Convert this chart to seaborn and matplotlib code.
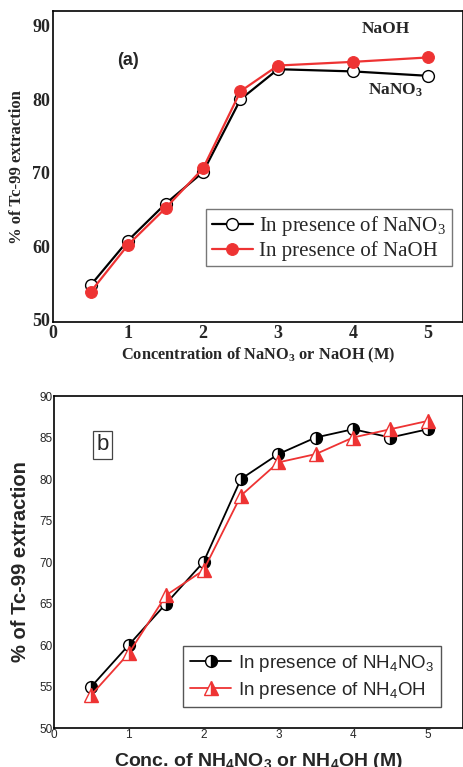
import numpy as np
import pandas as pd
import matplotlib
matplotlib.use('Agg')
import matplotlib.pyplot as plt
import seaborn as sns

# panel (a) data
conc_a = [0.5, 1, 1.5, 2, 2.5, 3, 4, 5]
nano3_a = [54.7, 60.8, 65.8, 70.1, 80.0, 84.1, 83.8, 83.2]
naoh_a = [53.8, 60.2, 65.2, 70.6, 81.1, 84.6, 85.1, 85.7]

# panel (b) data
conc_b = [0.5, 1, 1.5, 2, 2.5, 3, 3.5, 4, 4.5, 5]
nh4no3_b = [55, 60, 65, 70, 80, 83, 85, 86, 85, 86]
nh4oh_b = [54, 59, 66, 69, 78, 82, 83, 85, 86, 87]

yticks_a = [50, 60, 70, 80, 90]
yticks_b = [50, 55, 60, 65, 70, 75, 80, 85, 90]
xticks = [0, 1, 2, 3, 4, 5]

sns.set_style('ticks')
plt.rcParams['mathtext.default'] = 'regular'

red = '#ee3333'
serif = 'Liberation Serif'
sans = 'Liberation Sans'

fig = plt.figure(figsize=(4.63, 7.67), dpi=100)

# ---------- panel (a)
ax1 = fig.add_axes([0.1145, 0.580, 0.8855, 0.4055])
sns.lineplot(x=conc_a, y=nano3_a, ax=ax1, color='black', lw=1.6, marker='o',
             markersize=8.5, markerfacecolor='white', markeredgecolor='black',
             markeredgewidth=1.0, label='In presence of NaNO$_3$')
sns.lineplot(x=conc_a, y=naoh_a, ax=ax1, color=red, lw=1.6, marker='o',
             markersize=8.5, markerfacecolor=red, markeredgecolor=red,
             label='In presence of NaOH')
ax1.set_xlim(0, 5.467)
ax1.set_ylim(49.7, 92)
ax1.set_xticks(xticks)
ax1.set_yticks(yticks_a)
ax1.tick_params(length=0, pad=2)
for t in ax1.get_xticklabels() + ax1.get_yticklabels():
    t.set_fontfamily(serif)
    t.set_fontweight('bold')
    t.set_fontsize(13)
ax1.set_xlabel('Concentration of NaNO$_3$ or NaOH (M)', family=serif,
               fontweight='bold', fontsize=11.8, labelpad=3)
ax1.set_ylabel('% of Tc-99 extraction', family=serif, fontweight='bold',
               fontsize=12, labelpad=5)
ax1.text(1.0, 85.3, '(a)', family=sans, fontweight='bold', fontsize=13,
         ha='center', va='center')
ax1.text(4.44, 89.6, 'NaOH', family=serif, fontweight='bold', fontsize=12.5,
         ha='center', va='center')
ax1.text(4.57, 81.2, 'NaNO$_3$', family=serif, fontweight='bold', fontsize=12.5,
         ha='center', va='center')
leg1 = ax1.legend(loc='lower right', bbox_to_anchor=(0.972, 0.18),
                  prop={'family': serif, 'size': 15}, frameon=True,
                  fancybox=False, framealpha=1, edgecolor='#777777',
                  handlelength=2.0, handletextpad=0.3, borderpad=0.25,
                  labelspacing=0.15, borderaxespad=0)
leg1.get_frame().set_linewidth(1.0)
for sp in ax1.spines.values():
    sp.set_linewidth(1.2)
    sp.set_color('black')

# ---------- panel (b)
ax2 = fig.add_axes([0.1166, 0.0508, 0.8834, 0.4329])
sns.lineplot(x=conc_b, y=nh4no3_b, ax=ax2, color='black', lw=1.3, marker='o',
             markersize=8.5, fillstyle='right', markerfacecolor='black',
             markerfacecoloralt='white', markeredgecolor='black',
             markeredgewidth=1.0, label='In presence of NH$_4$NO$_3$')
sns.lineplot(x=conc_b, y=nh4oh_b, ax=ax2, color=red, lw=1.3, marker='^',
             markersize=9.5, fillstyle='right', markerfacecolor=red,
             markerfacecoloralt='white', markeredgecolor=red,
             markeredgewidth=1.0, label='In presence of NH$_4$OH')
ax2.set_xlim(0, 5.47)
ax2.set_ylim(50, 90)
ax2.set_xticks(xticks)
ax2.set_yticks(yticks_b)
ax2.tick_params(length=0, pad=1)
for t in ax2.get_xticklabels() + ax2.get_yticklabels():
    t.set_fontfamily(sans)
    t.set_fontsize(8.5)
ax2.set_xlabel('Conc. of NH$_4$NO$_3$ or NH$_4$OH (M)', family=sans,
               fontweight='bold', fontsize=14, labelpad=7)
ax2.set_ylabel('% of Tc-99 extraction', family=sans, fontweight='bold',
               fontsize=14.5, labelpad=7)
ax2.text(0.655, 84.1, 'b', family=sans, fontsize=16, ha='center', va='center',
         bbox=dict(boxstyle='square,pad=0.15', fc='white', ec='#444444', lw=0.9))
leg2 = ax2.legend(loc='lower right', bbox_to_anchor=(0.945, 0.063),
                  prop={'family': sans, 'size': 13.5}, frameon=True,
                  fancybox=False, framealpha=1, edgecolor='#555555',
                  handlelength=2.2, handletextpad=0.35, borderpad=0.35,
                  labelspacing=0.3, borderaxespad=0)
leg2.get_frame().set_linewidth(1.0)
for sp in ax2.spines.values():
    sp.set_linewidth(1.2)
    sp.set_color('black')

fig.savefig('out.png', dpi=100)
